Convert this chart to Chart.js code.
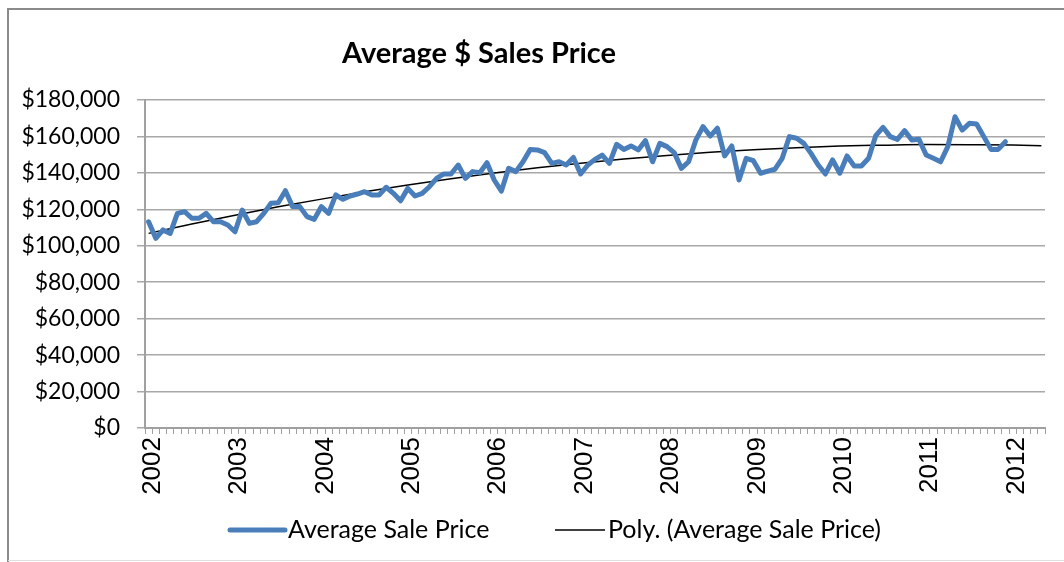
<!DOCTYPE html>
<html>
<head>
<meta charset="utf-8">
<script src="https://cdn.jsdelivr.net/npm/chart.js@4"></script>
<style>
  html, body { margin: 0; padding: 0; background: #fff; }
  #wrap { width: 1064px; height: 562px; position: relative; }
</style>
</head>
<body>
<div id="wrap"><canvas id="myChart" width="1064" height="562"></canvas></div>
<script>
// year labels shown on the axis (every 12th month)
const years = ["2002", "2003", "2004", "2005", "2006", "2007", "2008", "2009", "2010", "2011", "2012"];
const monthNames = ["Jan", "Feb", "Mar", "Apr", "May", "Jun", "Jul", "Aug", "Sep", "Oct", "Nov", "Dec"];
const numCategories = 125; // Jan 2002 .. May 2012 (trend runs past the data)

// monthly average sale price, Jan 2002 - Dec 2011
const avgSalePrice = [
  113200, 104100, 108700, 106800, 117800, 118700, 115100, 115100, 117800, 113200, 113200, 111400,
  107700, 119600, 112300, 113200, 117800, 123300, 123600, 130200, 121500, 121500, 116000, 114500,
  121500, 117800, 127900, 125500, 127300, 128400, 129700, 127900, 127900, 132100, 128800, 124700,
  131500, 127300, 128800, 132400, 137000, 139400, 139400, 144300, 137000, 140700, 140100, 145600,
  136100, 130000, 142500, 140700, 146100, 152900, 152600, 151100, 145200, 146100, 144300, 148500,
  139400, 144300, 147400, 149800, 145200, 155700, 152900, 154800, 152600, 157700, 146100, 156200,
  154400, 151100, 142500, 146100, 158000, 165400, 160200, 164500, 149300, 154800, 136100, 148000,
  146700, 139800, 141000, 142000, 148000, 159900, 159000, 156200, 150700, 144300, 139400, 147100,
  139800, 149300, 143800, 143800, 148000, 160500, 165000, 159900, 158400, 163200, 158000, 158400,
  149800, 148000, 146100, 154400, 170800, 163500, 167200, 166800, 159900, 152900, 152900, 157100
];

// polynomial trend line at every 6th month and at the last category
const trendIndex = [0, 6, 12, 18, 24, 30, 36, 42, 48, 54, 60, 66, 72, 78, 84, 90, 96, 102, 108, 114, 120, 124];
const trendValues = [
  106800, 111900, 116800, 121400, 125600, 129600, 133300, 136800, 139900, 142800, 145300,
  147600, 149600, 151300, 152700, 153800, 154700, 155200, 155600, 155500, 155300, 154900
];

const categories = [];
for (let i = 0; i < numCategories; i++) {
  const y = 2002 + Math.floor(i / 12);
  categories.push(monthNames[i % 12] + " " + y);
}

const trendSeries = new Array(numCategories).fill(null);
trendIndex.forEach((idx, k) => { trendSeries[idx] = trendValues[k]; });

// frame, title and legend drawn on top of the chart
const decorations = {
  id: "decorations",
  afterDraw(chart) {
    const c = chart.ctx;
    c.save();
    c.strokeStyle = "#8a8a8a";
    c.lineWidth = 2;
    c.beginPath();
    c.moveTo(8, 562);
    c.lineTo(8, 9);
    c.lineTo(1064, 9);
    c.stroke();
    c.strokeStyle = "#e0e0e0";
    c.lineWidth = 1;
    c.beginPath();
    c.moveTo(8, 560.5);
    c.lineTo(1064, 560.5);
    c.stroke();

    c.fillStyle = "#000";
    c.font = "bold 29px Lato";
    c.textAlign = "center";
    c.textBaseline = "middle";
    c.fillText("Average $ Sales Price", 479, 54);

    // legend
    const legendX = [230, 555];
    const legendLen = [55, 50];
    const legendY = 530;
    c.font = "25px Lato";
    c.textAlign = "left";
    chart.data.datasets.forEach((ds, i) => {
      c.strokeStyle = ds.borderColor;
      c.lineWidth = ds.borderWidth;
      c.lineCap = ds.borderCapStyle || "butt";
      c.beginPath();
      c.moveTo(legendX[i], legendY);
      c.lineTo(legendX[i] + legendLen[i], legendY);
      c.stroke();
      c.fillStyle = "#000";
      c.fillText(ds.label, legendX[i] + legendLen[i] + 3, legendY);
    });
    c.restore();
  }
};

const ctx = document.getElementById("myChart").getContext("2d");
new Chart(ctx, {
  type: "line",
  data: {
    labels: categories,
    datasets: [
      {
        label: "Average Sale Price",
        data: avgSalePrice,
        borderColor: "#4a7ebb",
        backgroundColor: "#4a7ebb",
        borderWidth: 5,
        borderCapStyle: "round",
        borderJoinStyle: "round",
        pointRadius: 0,
        tension: 0
      },
      {
        label: "Poly. (Average Sale Price)",
        data: trendSeries,
        borderColor: "#000",
        backgroundColor: "#000",
        borderWidth: 1.5,
        pointRadius: 0,
        spanGaps: true,
        cubicInterpolationMode: "monotone"
      }
    ]
  },
  options: {
    responsive: false,
    animation: false,
    devicePixelRatio: 1,
    layout: { padding: { left: 12, right: 19, top: 100, bottom: 62 } },
    plugins: {
      title: { display: false },
      tooltip: { enabled: false },
      legend: { display: false }
    },
    scales: {
      x: {
        offset: true,
        afterFit(scale) {
          scale.height = 72;
          scale.paddingLeft = 0;
          scale.paddingRight = 0;
        },
        grid: {
          drawOnChartArea: false,
          drawTicks: true,
          tickLength: 6,
          offset: true,
          color: "#a0a0a0"
        },
        border: { color: "#a0a0a0", width: 2 },
        ticks: {
          autoSkip: false,
          minRotation: 90,
          maxRotation: 90,
          padding: 3,
          labelOffset: 4,
          color: "#000",
          font: { family: "Liberation Sans", size: 26 },
          callback(val, idx) {
            return idx % 12 === 0 ? years[idx / 12] : "";
          }
        }
      },
      y: {
        min: 0,
        max: 180000,
        afterFit(scale) { scale.width = 133; },
        grid: { color: "#a8a8a8", lineWidth: 1.5, tickLength: 8 },
        border: { color: "#a0a0a0", width: 2 },
        ticks: {
          stepSize: 20000,
          padding: 17,
          color: "#000",
          font: { family: "Lato", size: 23 },
          callback(v) { return "$" + v.toLocaleString("en-US"); }
        }
      }
    }
  },
  plugins: [decorations]
});
</script>
</body>
</html>
